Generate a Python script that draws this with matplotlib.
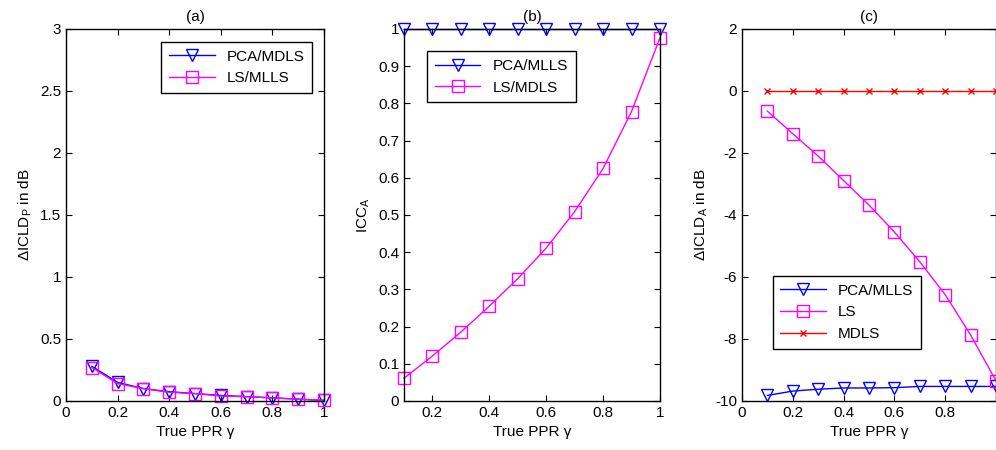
import matplotlib
matplotlib.use("Agg")
import matplotlib.pyplot as plt

plt.rcParams['font.family'] = ['Liberation Sans', 'DejaVu Sans']
plt.rcParams['mathtext.fontset'] = 'custom'
plt.rcParams['mathtext.rm'] = 'Liberation Sans'
plt.rcParams['mathtext.it'] = 'Liberation Sans:italic'
plt.rcParams['font.size'] = 11

# data
gamma = [0.1, 0.2, 0.3, 0.4, 0.5, 0.6, 0.7, 0.8, 0.9, 1.0]

a_pca = [0.28, 0.15, 0.10, 0.075, 0.06, 0.045, 0.035, 0.025, 0.015, 0.005]
a_ls = [0.27, 0.14, 0.10, 0.07, 0.06, 0.04, 0.035, 0.025, 0.015, 0.005]

b_pca = [1.0, 1.0, 1.0, 1.0, 1.0, 1.0, 1.0, 1.0, 1.0, 1.0]
b_ls = [0.061, 0.121, 0.185, 0.255, 0.329, 0.411, 0.509, 0.625, 0.778, 0.976]

c_pca = [-9.82, -9.68, -9.62, -9.58, -9.58, -9.57, -9.53, -9.53, -9.53, -9.53]
c_ls = [-0.65, -1.38, -2.10, -2.89, -3.68, -4.55, -5.51, -6.57, -7.87, -9.35]
c_mdls = [0, 0, 0, 0, 0, 0, 0, 0, 0, 0]

fig = plt.figure(figsize=(9.96, 4.5), dpi=100)
ax_a = fig.add_axes([0.0663, 0.1089, 0.259, 0.8267])
ax_b = fig.add_axes([0.4056, 0.1089, 0.257, 0.8267])
ax_c = fig.add_axes([0.745, 0.1089, 0.255, 0.8267])

tri = dict(color='blue', marker='v', markersize=8, markerfacecolor='none', lw=1)
sq = dict(color='magenta', marker='s', markersize=8, markerfacecolor='none', lw=1)
xm = dict(color='red', marker='x', markersize=4, lw=1)


def style(ax):
    ax.tick_params(direction='in', top=True, right=True, length=4, labelsize=11)
    for s in ax.spines.values():
        s.set_linewidth(1.0)


def legend(ax, **kw):
    leg = ax.legend(fancybox=False, edgecolor='black', framealpha=1,
                    fontsize=11, handlelength=3, borderpad=0.5, **kw)
    leg.get_frame().set_linewidth(1.0)
    return leg


# (a)
ax_a.plot(gamma, a_pca, label='PCA/MDLS', clip_on=False, **tri)
ax_a.plot(gamma, a_ls, label='LS/MLLS', clip_on=False, **sq)
ax_a.set_xlim(0, 1)
ax_a.set_ylim(0, 3)
ax_a.set_xticks([0, 0.2, 0.4, 0.6, 0.8, 1])
ax_a.set_xticklabels(['0', '0.2', '0.4', '0.6', '0.8', '1'])
ax_a.set_yticks([0, 0.5, 1, 1.5, 2, 2.5, 3])
ax_a.set_yticklabels(['0', '0.5', '1', '1.5', '2', '2.5', '3'])
ax_a.set_ylabel(r'$\Delta$ICLD$_\mathrm{P}$ in dB')
ax_a.set_xlabel('True PPR γ')
ax_a.set_title('(a)', fontsize=11, pad=6)
legend(ax_a, loc='upper right', bbox_to_anchor=(0.985, 0.985))
style(ax_a)

# (b)
ax_b.plot(gamma, b_pca, label='PCA/MLLS', clip_on=False, **tri)
ax_b.plot(gamma, b_ls, label='LS/MDLS', clip_on=False, **sq)
ax_b.set_xlim(0.1, 1)
ax_b.set_ylim(0, 1)
ax_b.set_xticks([0.2, 0.4, 0.6, 0.8, 1])
ax_b.set_xticklabels(['0.2', '0.4', '0.6', '0.8', '1'])
ax_b.set_yticks([0, 0.1, 0.2, 0.3, 0.4, 0.5, 0.6, 0.7, 0.8, 0.9, 1])
ax_b.set_yticklabels(['0', '0.1', '0.2', '0.3', '0.4', '0.5', '0.6', '0.7', '0.8', '0.9', '1'])
ax_b.set_ylabel(r'ICC$_\mathrm{A}$')
ax_b.set_xlabel('True PPR γ')
ax_b.set_title('(b)', fontsize=11, pad=6)
legend(ax_b, loc='upper left', bbox_to_anchor=(0.06, 0.96))
style(ax_b)

# (c)
ax_c.plot(gamma, c_pca, label='PCA/MLLS', clip_on=False, **tri)
ax_c.plot(gamma, c_ls, label='LS', clip_on=False, **sq)
ax_c.plot(gamma, c_mdls, label='MDLS', clip_on=False, **xm)
ax_c.set_xlim(0, 1)
ax_c.set_ylim(-10, 2)
ax_c.set_xticks([0, 0.2, 0.4, 0.6, 0.8, 1])
ax_c.set_xticklabels(['0', '0.2', '0.4', '0.6', '0.8', ''])
ax_c.set_yticks([-10, -8, -6, -4, -2, 0, 2])
ax_c.set_yticklabels(['-10', '-8', '-6', '-4', '-2', '0', '2'])
ax_c.set_ylabel(r'$\Delta$ICLD$_\mathrm{A}$ in dB')
ax_c.set_xlabel('True PPR γ')
ax_c.set_title('(c)', fontsize=11, pad=6)
legend(ax_c, loc='lower left', bbox_to_anchor=(0.09, 0.12))
style(ax_c)

fig.savefig('out.png', dpi=100)
